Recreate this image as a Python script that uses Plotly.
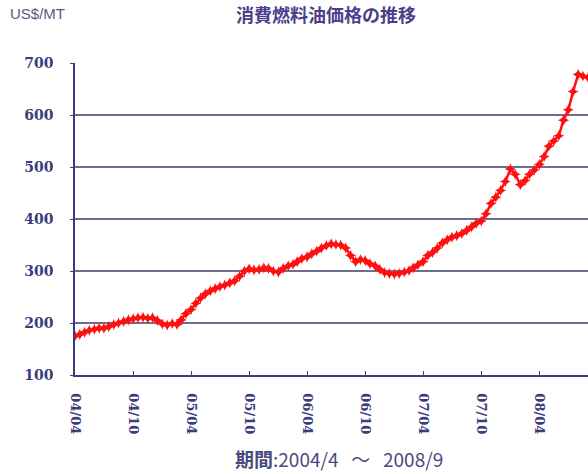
import plotly.graph_objects as go

# semi-monthly observations, 2004/4 .. 2008/9 (US$/MT)
dates = []
for y in range(2004, 2009):
    for m in range(1, 13):
        if (y == 2004 and m < 4) or (y == 2008 and m > 9):
            continue
        dates.append(f"{y}-{m:02d}-01")
        if not (y == 2008 and m == 9):
            dates.append(f"{y}-{m:02d}-16")

prices = [
    175, 178, 182, 186, 188, 190, 190, 193, 197, 200, 203, 206,   # 2004/4-9
    208, 210, 211, 209, 210, 205, 198, 196, 199, 197, 206, 218,   # 2004/10-2005/3
    226, 238, 248, 256, 262, 266, 270, 273, 277, 281, 290, 300,   # 2005/4-9
    304, 302, 303, 306, 305, 300, 298, 305, 310, 313, 318, 324,   # 2005/10-2006/3
    327, 333, 338, 344, 349, 352, 351, 350, 344, 330, 318, 322,   # 2006/4-9
    320, 314, 310, 303, 297, 295, 294, 295, 298, 301, 306, 312,   # 2006/10-2007/3
    318, 330, 336, 344, 354, 360, 365, 368, 372, 378, 385, 392,   # 2007/4-9
    396, 410, 430, 442, 455, 472, 496, 486, 466, 474, 486, 494,   # 2007/10-2008/3
    505, 520, 540, 550, 560, 590, 610, 645, 678, 675, 672,        # 2008/4-9
]

tick_dates = ["2004-04-01", "2004-10-01", "2005-04-01", "2005-10-01", "2006-04-01",
              "2006-10-01", "2007-04-01", "2007-10-01", "2008-04-01"]
tick_labels = ["04/04", "04/10", "05/04", "05/10", "06/04", "06/10", "07/04", "07/10", "08/04"]

y_ticks = [100, 200, 300, 400, 500, 600, 700]

navy = "#3c3c7c"
grid = "#6e6e8e"

fig = go.Figure()
fig.add_trace(go.Scatter(
    x=dates, y=prices, mode="lines+markers",
    line=dict(color="#ff1010", width=2.5),
    marker=dict(symbol="star-diamond", size=8, color="#ff1010"),
    showlegend=False, hoverinfo="skip",
))

L, R, T, B = 75, 0, 63, 99
W, H = 588, 474

fig.update_layout(
    width=W, height=H,
    margin=dict(l=L, r=R, t=T, b=B),
    paper_bgcolor="white", plot_bgcolor="white",
    xaxis=dict(
        type="date", range=["2004-04-01", "2008-09-01"],
        tickvals=tick_dates, ticktext=tick_labels, tickangle=90,
        showgrid=False, showline=True, linecolor=navy, linewidth=1.5,
        ticks="inside", ticklen=4, tickcolor=navy,
        tickfont=dict(family="DejaVu Serif", size=13, color=navy, weight="bold"),
        ticklabelstandoff=14,
    ),
    yaxis=dict(
        range=[100, 700], tickvals=y_ticks,
        showgrid=True, gridcolor=grid, gridwidth=1.5,
        showline=True, linecolor=navy, linewidth=1.5,
        ticks="outside", ticklen=3, tickcolor=navy,
        tickfont=dict(family="DejaVu Serif", size=14, color=navy, weight="bold"),
        ticklabelstandoff=14, zeroline=False,
    ),
)

pw, ph = W - L - R, H - T - B


def px(x, y):
    return (x - L) / pw, (H - y - B) / ph


for text, (x, y), anchor, font in [
    ("US$/MT", (8, 14), "left", dict(family="Liberation Sans", size=15, color="#5a5a82")),
    ("消費燃料油価格の推移", (326, 14), "center",
     dict(family="Noto Sans CJK JP", size=18, color="#4a3f8a", weight="bold")),
    ("<b>期間</b>:2004/4   ～   2008/9", (339, 458), "center",
     dict(family="Noto Sans CJK JP", size=19, color="#4a4a80")),
]:
    fx, fy = px(x, y)
    fig.add_annotation(text=text, x=fx, y=fy, xref="paper", yref="paper", showarrow=False,
                       xanchor=anchor, yanchor="middle", font=font)

fig.write_html("out.html", config={"displayModeBar": False},
               post_script="document.body.style.margin='0';document.body.style.overflow='hidden';")
